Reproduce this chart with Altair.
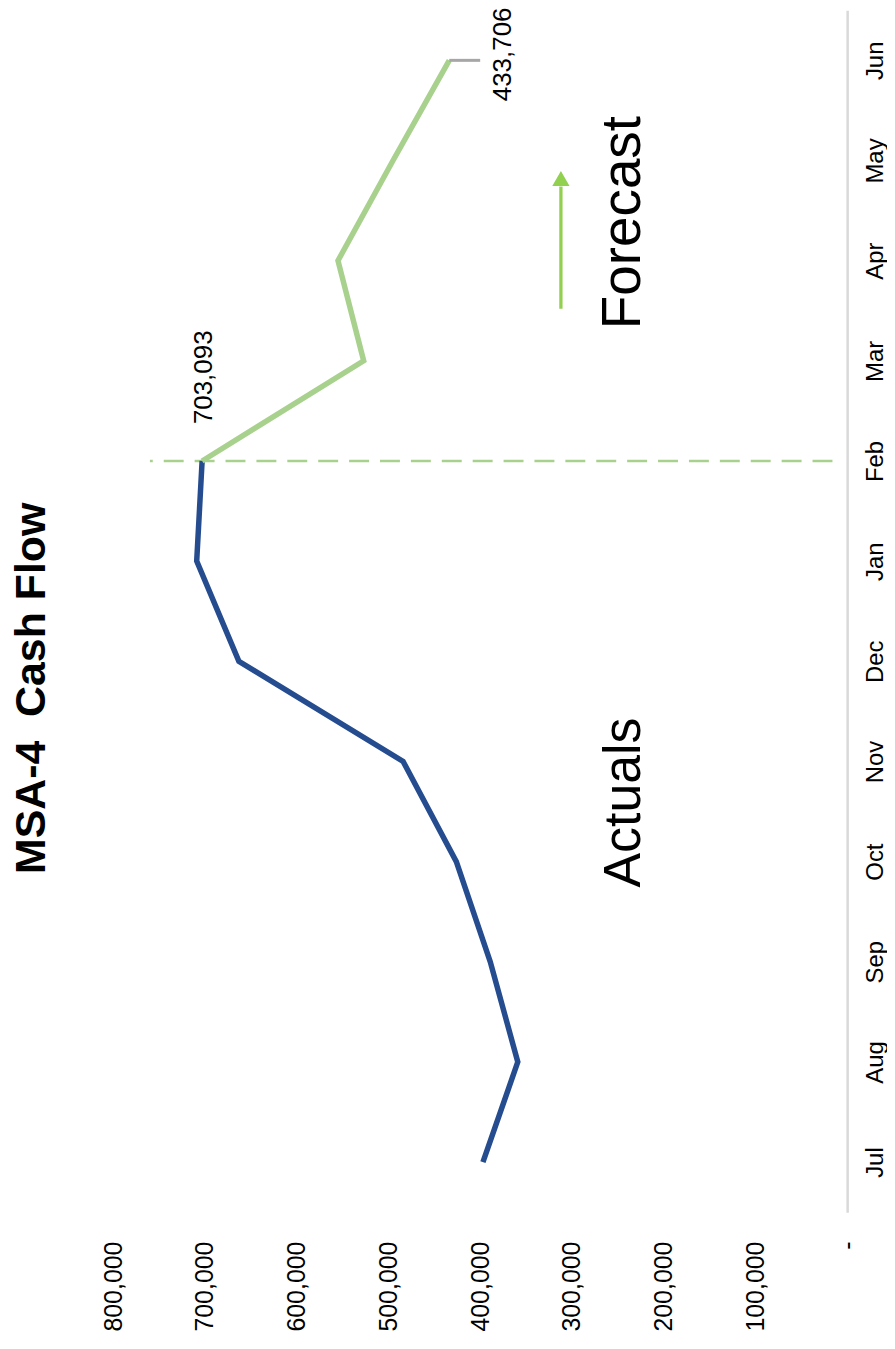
import altair as alt
import pandas as pd

# ---------------- data ----------------
months = ["Jul", "Aug", "Sep", "Oct", "Nov", "Dec", "Jan", "Feb", "Mar", "Apr", "May", "Jun"]
actual_values = [397000, 359000, 389000, 426000, 484000, 663000, 709000, 703093]
forecast_values = [703093, 527000, 555000, 495000, 433706]
forecast_start = 7  # Feb
value_ticks = [0, 100000, 200000, 300000, 400000, 500000, 600000, 700000, 800000]

# annotation anchors (in data units: month index / value)
divider_month = [7]
divider_from = [16000]
divider_to = [760000]
arrow_value = [312000]
arrow_from = [8.52]
arrow_to = [9.74]
arrow_tip = [9.82]
leader_month = [11]
leader_from = [433706]
leader_to = [400000]
texts = ["MSA-4\u00a0 Cash Flow", "Forecast", "Actuals"]
text_month = [4.73, 9.38, 3.59]
text_value = [874000, 226000, 226000]

FONT = "Liberation Sans"
BLUE = "#254C8E"
GREEN = "#A9D18E"
ARROW = "#92D050"

rows = []
for i, v in enumerate(actual_values):
    rows.append({"series": "Actuals", "idx": i, "value": v})
for j, v in enumerate(forecast_values):
    rows.append({"series": "Forecast", "idx": forecast_start + j, "value": v})
lines_df = pd.DataFrame(rows)

xscale = alt.Scale(domain=[0, 906000], reverse=True, nice=False, zero=False)
yscale = alt.Scale(domain=[-0.5, 11.5], nice=False, zero=False)

month_expr = "[" + ",".join(f"'{m}'" for m in months) + "][datum.value]"

x_axis = alt.Axis(
    orient="bottom", values=value_ticks,
    labelExpr="datum.value == 0 ? '-' : format(datum.value, ',.0f')",
    labelAngle=270, labelAlign="right", labelBaseline="middle",
    labelPadding=29, labelFontSize=25, labelFont=FONT, labelColor="black",
    domain=False, ticks=False, grid=False, title=None,
)
y_axis = alt.Axis(
    orient="right", values=list(range(12)), labelExpr=month_expr,
    labelAngle=270, labelAlign="center", labelBaseline="top",
    labelPadding=16, labelFontSize=24, labelFont=FONT, labelColor="black",
    domain=True, domainColor="#D9D9D9", domainWidth=2.5,
    ticks=False, grid=False, title=None,
)


def X(field):
    return alt.X(field, scale=xscale, axis=x_axis, title=None)


def Y(field):
    return alt.Y(field, scale=yscale, axis=y_axis, title=None)


lines = alt.Chart(lines_df).mark_line(strokeWidth=5.5).encode(
    x=X("value:Q"),
    y=Y("idx:Q"),
    color=alt.Color("series:N", scale=alt.Scale(domain=["Actuals", "Forecast"], range=[BLUE, GREEN]), legend=None),
    order=alt.Order("idx:Q"),
)

divider = alt.Chart(pd.DataFrame({"m": divider_month, "a": divider_from, "b": divider_to})).mark_rule(
    strokeDash=[20, 11], strokeWidth=2.5, color=GREEN
).encode(x=X("a:Q"), x2="b:Q", y=Y("m:Q"))

leader = alt.Chart(pd.DataFrame({"m": leader_month, "a": leader_from, "b": leader_to})).mark_rule(
    strokeWidth=3, color="#A6A6A6"
).encode(x=X("a:Q"), x2="b:Q", y=Y("m:Q"))

arrow_df = pd.DataFrame({"v": arrow_value, "a": arrow_from, "b": arrow_to, "t": arrow_tip})
arrow_shaft = alt.Chart(arrow_df).mark_rule(strokeWidth=3.3, color=ARROW).encode(
    x=X("v:Q"), y=Y("a:Q"), y2="b:Q",
)
arrow_head = alt.Chart(arrow_df).mark_point(
    shape="triangle-up", size=300, filled=True, opacity=1, color=ARROW
).encode(x=X("v:Q"), y=Y("t:Q"))

text_df = pd.DataFrame({"text": texts, "m": text_month, "v": text_value})
title_txt = alt.Chart(text_df.iloc[[0]]).mark_text(
    angle=270, align="center", baseline="alphabetic", fontSize=43, fontWeight="bold", font=FONT, color="black"
).encode(x=X("v:Q"), y=Y("m:Q"), text="text:N")
forecast_txt = alt.Chart(text_df.iloc[[1]]).mark_text(
    angle=270, align="center", baseline="alphabetic", fontSize=55, font=FONT, color="black"
).encode(x=X("v:Q"), y=Y("m:Q"), text="text:N")
actuals_txt = alt.Chart(text_df.iloc[[2]]).mark_text(
    angle=270, align="center", baseline="alphabetic", fontSize=52, font=FONT, color="black"
).encode(x=X("v:Q"), y=Y("m:Q"), text="text:N")

feb_df = pd.DataFrame({"idx": [forecast_start], "value": [forecast_values[0]]})
jun_df = pd.DataFrame({"idx": [forecast_start + len(forecast_values) - 1], "value": [forecast_values[-1]]})
feb_label = alt.Chart(feb_df).mark_text(
    angle=270, align="left", baseline="middle", dx=37, dy=2, fontSize=26, font=FONT, color="black"
).encode(x=X("value:Q"), y=Y("idx:Q"), text=alt.Text("value:Q", format=","))
jun_label = alt.Chart(jun_df).mark_text(
    angle=270, align="center", baseline="middle", dx=6, dy=54, fontSize=26, font=FONT, color="black"
).encode(x=X("value:Q"), y=Y("idx:Q"), text=alt.Text("value:Q", format=","))

chart = alt.layer(
    divider, lines, leader, arrow_shaft, arrow_head, title_txt, forecast_txt, actuals_txt, feb_label, jun_label
).properties(
    width=834, height=1206,
    padding={"left": 8, "top": 0, "right": 40, "bottom": 125},
    autosize=alt.AutoSizeParams(type="none"),
    background="white",
).configure_view(stroke=None)

chart.save("out.html", embed_options={"renderer": "svg", "actions": False})
